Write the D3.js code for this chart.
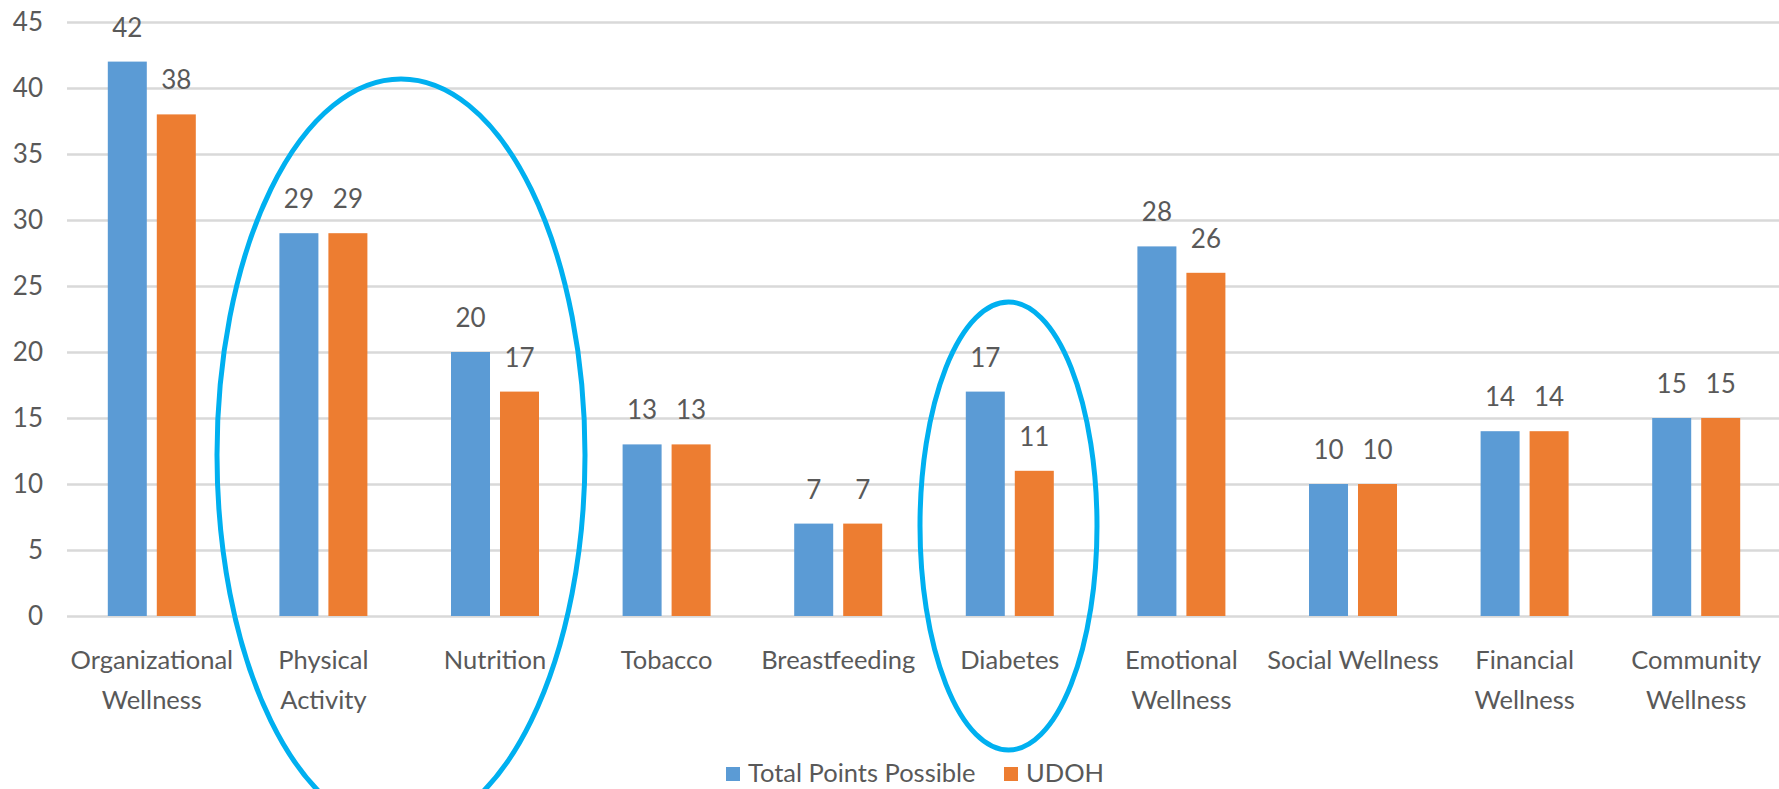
<!DOCTYPE html>
<html>
<head>
<meta charset="utf-8">
<script src="https://cdn.jsdelivr.net/npm/d3@7"></script>
<style>
	body { margin: 0; background: #fff; }
	svg text { font-family: Lato, "Open Sans", sans-serif; fill: #595959; }
</style>
</head>
<body>
<div id="chartDiv"></div>
<script>
var categories = [
	["Organizational", "Wellness"],
	["Physical", "Activity"],
	["Nutrition"],
	["Tobacco"],
	["Breastfeeding"],
	["Diabetes"],
	["Emotional", "Wellness"],
	["Social Wellness"],
	["Financial", "Wellness"],
	["Community", "Wellness"]
];
var seriesNames = ["Total Points Possible", "UDOH"];
var totalPoints = [42, 29, 20, 13, 7, 17, 28, 10, 14, 15];
var udohPoints = [38, 29, 17, 13, 7, 11, 26, 10, 14, 15];
var yTicks = [0, 5, 10, 15, 20, 25, 30, 35, 40, 45];
var colors = ["#5b9bd5", "#ed7d31"];

var width = 1779, height = 789;
var svg = d3.select("#chartDiv").append("svg")
	.attr("width", width).attr("height", height);

var keys = categories.map(function(c) { return c.join(" "); });

var x0 = d3.scaleBand().domain(keys).range([66, 1782]).padding(0);
var x1 = d3.scaleBand().domain(seriesNames).range([-44, 44]).paddingInner(0.204);
var y = d3.scaleLinear().domain([0, 45]).range([616, 22]);

// gridlines + tick labels
var yAxis = svg.append("g")
	.attr("transform", "translate(67,0)")
	.call(d3.axisLeft(y).tickValues(yTicks).tickSize(-(width - 67)).tickPadding(24));
yAxis.select(".domain").remove();
yAxis.selectAll(".tick line").attr("stroke", "#d9d9d9").attr("stroke-width", 2.5);
yAxis.selectAll(".tick text").attr("font-size", 26).style("font-family", "Lato, sans-serif").attr("fill", "#595959");

var rows = keys.map(function(k, i) {
	return { key: k, values: [totalPoints[i], udohPoints[i]] };
});

var groups = svg.selectAll(".grp").data(rows).enter().append("g")
	.attr("class", "grp")
	.attr("transform", function(d) { return "translate(" + (x0(d.key) + x0.bandwidth() / 2) + ",0)"; });

groups.selectAll("rect").data(function(d) {
		return d.values.map(function(v, j) { return { s: seriesNames[j], v: v, j: j }; });
	}).enter().append("rect")
	.attr("x", function(d) { return x1(d.s); })
	.attr("width", x1.bandwidth())
	.attr("y", function(d) { return y(d.v); })
	.attr("height", function(d) { return y(0) - y(d.v); })
	.attr("fill", function(d) { return colors[d.j]; });

groups.selectAll(".val").data(function(d) {
		return d.values.map(function(v, j) { return { s: seriesNames[j], v: v }; });
	}).enter().append("text")
	.attr("class", "val")
	.attr("x", function(d) { return x1(d.s) + x1.bandwidth() / 2; })
	.attr("y", function(d) { return y(d.v) - 25; })
	.attr("text-anchor", "middle")
	.attr("font-size", 26)
	.text(function(d) { return d.v; });

// category labels
groups.append("text")
	.attr("text-anchor", "middle")
	.attr("font-size", 25.5)
	.selectAll("tspan").data(function(d, i) { return categories[i]; })
	.enter().append("tspan")
	.attr("x", 0)
	.attr("y", function(d, i) { return 669 + i * 40; })
	.text(function(d) { return d; });

// legend
var legend = svg.append("g");
var legendX = [726, 1004];
seriesNames.forEach(function(name, i) {
	legend.append("rect").attr("x", legendX[i]).attr("y", 767)
		.attr("width", 14).attr("height", 14).attr("fill", colors[i]);
	legend.append("text").attr("x", legendX[i] + 22).attr("y", 782)
		.attr("font-size", 25.5).text(name);
});

// highlight ellipses
svg.append("ellipse").attr("cx", 401).attr("cy", 455).attr("rx", 184).attr("ry", 376)
	.attr("fill", "none").attr("stroke", "#00b0f0").attr("stroke-width", 5);
svg.append("ellipse").attr("cx", 1008.5).attr("cy", 526).attr("rx", 88.5).attr("ry", 224)
	.attr("fill", "none").attr("stroke", "#00b0f0").attr("stroke-width", 5);
</script>
</body>
</html>
